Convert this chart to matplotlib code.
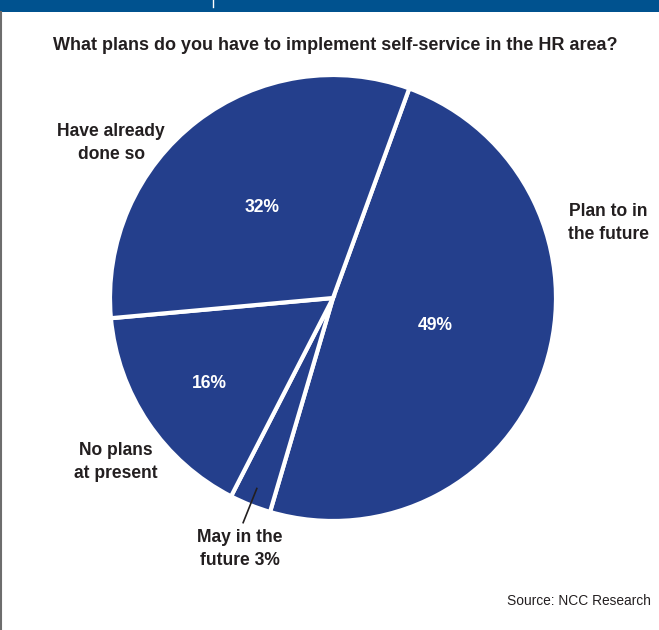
import matplotlib.pyplot as plt
import matplotlib.patches as mpatches
import numpy as np

# datos del gráfico
categorias = ['Plan to in\nthe future', 'May in the\nfuture 3%', 'No plans\nat present', 'Have already\ndone so']
valores = [49, 3, 16, 32]
etiquetas_pct = ['49%', '', '16%', '32%']

titulo = 'What plans do you have to implement self-service in the HR area?'
fuente = 'Source: NCC Research'

plt.rcParams['font.family'] = ['Liberation Sans', 'DejaVu Sans']

W, H = 659, 630
fig = plt.figure(figsize=(W / 100, H / 100), dpi=100)
ax = fig.add_axes([0, 0, 1, 1])
renderer = fig.canvas.get_renderer()


def ajustar(t, ancho):
    # escala el tamaño de letra para que el texto mida 'ancho' píxeles
    bb = t.get_window_extent(renderer)
    t.set_fontsize(t.get_fontsize() * ancho / bb.width)


azul = '#243f8c'
texto = '#231f20'

# centro y radio en píxeles (y hacia arriba)
cx, cy, R = 333, H - 298, 223

wedges, _ = ax.pie(valores, startangle=70, counterclock=False, colors=[azul] * len(valores),
                   center=(cx, cy), radius=R,
                   wedgeprops=dict(edgecolor='white', linewidth=3))

ax.set_xlim(0, W)
ax.set_ylim(0, H)
ax.set_aspect('auto')
ax.axis('off')

# tamaño de etiquetas según "Have already" (~108 px en la referencia)
prueba = ax.text(0, 0, 'Have already', fontsize=12, fontweight='bold')
ajustar(prueba, 108)
fs = prueba.get_fontsize()
prueba.remove()

# porcentajes dentro del pastel
pos_pct = [(435, 326), None, (209, 383), (262, 207)]
for txt, p in zip(etiquetas_pct, pos_pct):
    if p:
        ax.text(p[0], H - p[1], txt, color='white', fontsize=fs, fontweight='bold',
                ha='center', va='center')

# etiquetas de categorías
pos_cat = [(608, 223), (240, 549), (116, 462), (111, 143)]
for txt, p in zip(categorias, pos_cat):
    ax.text(p[0], H - p[1], txt, color=texto, fontsize=fs, fontweight='bold',
            ha='center', va='center', linespacing=1.5)

# línea guía para el 3%
w3 = wedges[1]
ang = np.deg2rad((w3.theta1 + w3.theta2) / 2)
r1, r2 = 0.92 * R, 1.085 * R
ax.plot([cx + r1 * np.cos(ang), cx + r2 * np.cos(ang)],
        [cy + r1 * np.sin(ang), cy + r2 * np.sin(ang)], color=texto, lw=1.2)

# título y fuente
t = ax.text(335, H - 45, titulo, color=texto, fontsize=14, fontweight='bold',
            ha='center', va='center')
ajustar(t, 564)
s = ax.text(651, H - 601, fuente, color=texto, fontsize=11, ha='right', va='center')
ajustar(s, 143)

# barra superior y borde izquierdo
ax.add_patch(mpatches.Rectangle((0, H - 12), W, 12, color='#00528f', lw=0))
ax.plot([213, 213], [H - 7, H], color='white', lw=1)
ax.plot([1, 1], [0, H - 12], color='#6d6d6d', lw=1.5)

fig.savefig('out.png', dpi=100)
